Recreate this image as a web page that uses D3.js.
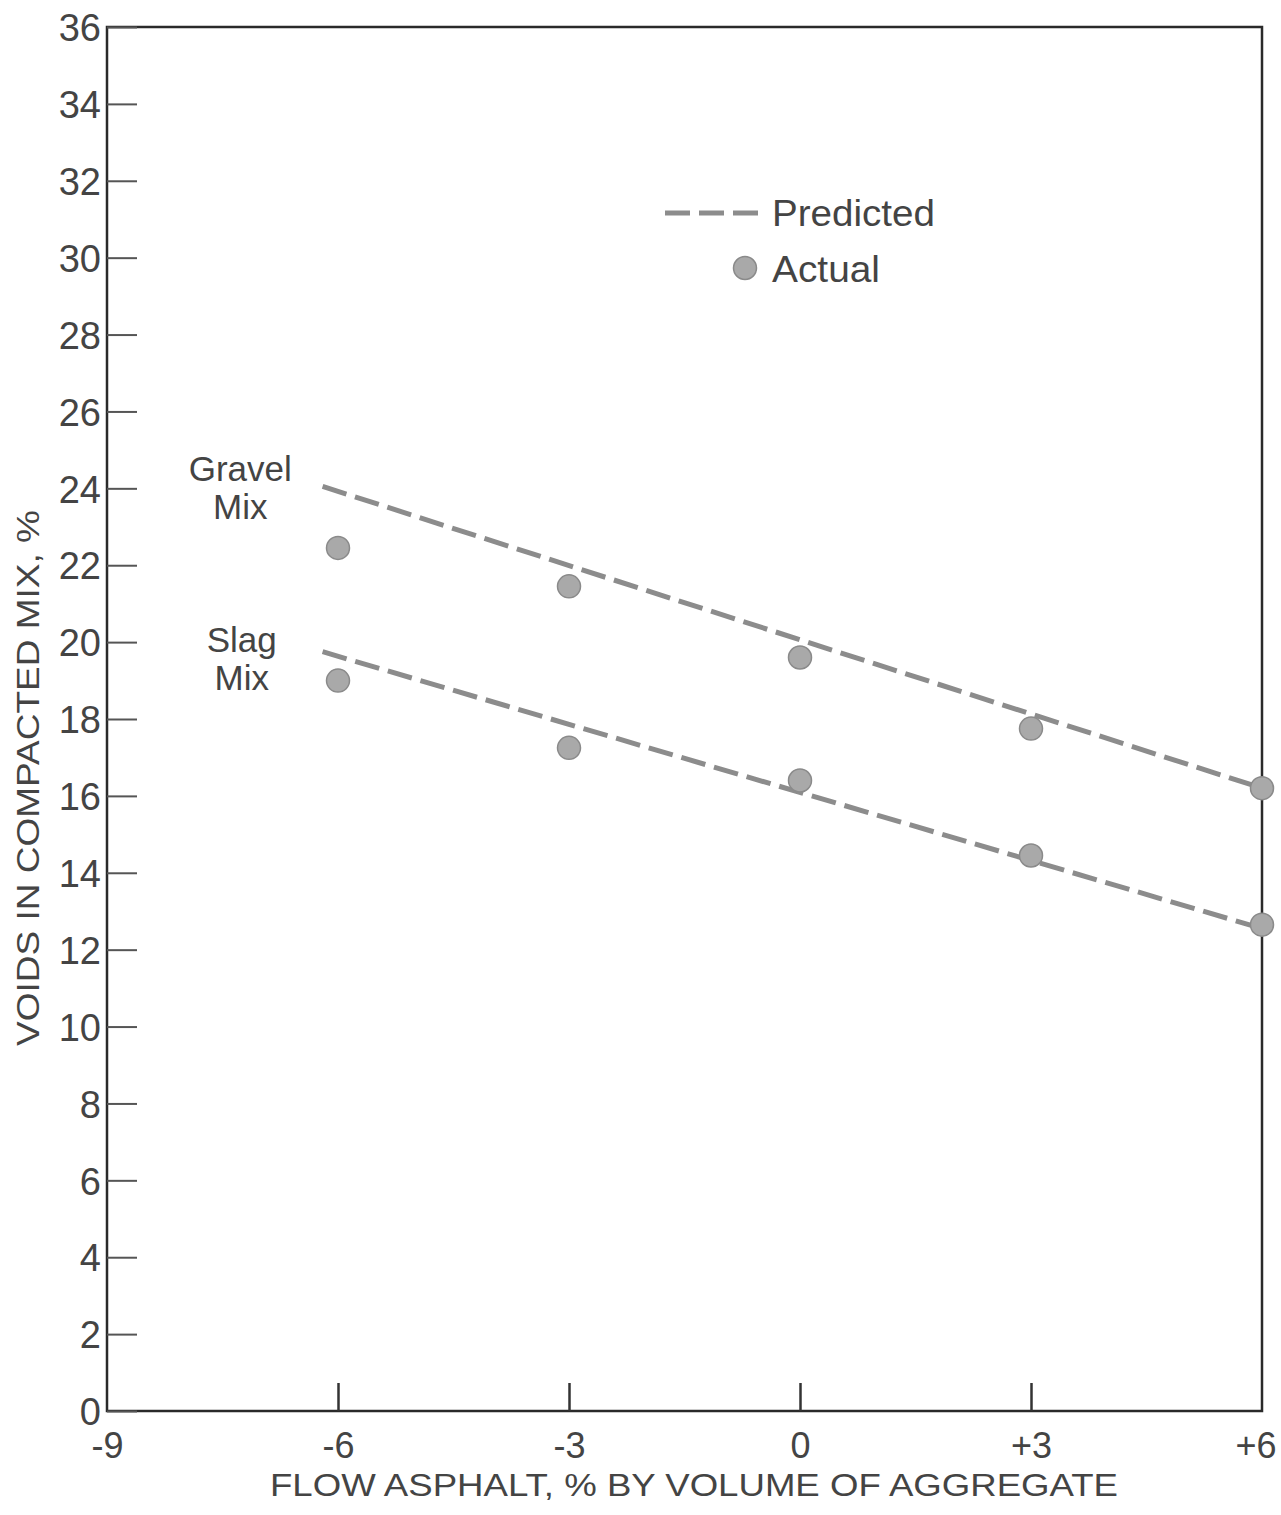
<!DOCTYPE html>
<html>
<head>
<meta charset="utf-8">
<script src="https://cdn.jsdelivr.net/npm/d3@7"></script>
<style>
  html, body { margin: 0; padding: 0; background: #fff; }
  svg text { font-family: "Liberation Sans", "DejaVu Sans", sans-serif; fill: #444; }
</style>
</head>
<body>
<script>
// ---- data ----
const xTicks = [-9, -6, -3, 0, 3, 6];
const xTickLabels = ["-9", "-6", "-3", "0", "+3", "+6"];
const yTicks = [0, 2, 4, 6, 8, 10, 12, 14, 16, 18, 20, 22, 24, 26, 28, 30, 32, 34, 36];

const actualX = [-6, -3, 0, 3, 6];
const gravelActual = [22.45, 21.45, 19.6, 17.75, 16.2];
const slagActual = [19.0, 17.25, 16.4, 14.45, 12.65];

const predX = [-6.2, 6];
const gravelPred = [24.05, 16.2];
const slagPred = [19.75, 12.55];

const seriesLabels = [
  { lines: ["Gravel", "Mix"], x: -7.27, y: 24.2 },
  { lines: ["Slag", "Mix"], x: -7.25, y: 19.75 }
];

// ---- layout ----
const W = 1281, H = 1515;
const mLeft = 107, mRight = 1262, mTop = 27, mBottom = 1411;

const svg = d3.select("body").append("svg").attr("width", W).attr("height", H);

const x = d3.scaleLinear().domain([-9, 6]).range([mLeft, mRight]);
const y = d3.scaleLinear().domain([0, 36]).range([mBottom, mTop]);

// frame
svg.append("rect")
  .attr("x", mLeft).attr("y", mTop)
  .attr("width", mRight - mLeft).attr("height", mBottom - mTop)
  .attr("fill", "none").attr("stroke", "#2a2a2a").attr("stroke-width", 2.5);

// y axis (ticks inward)
const yAxis = d3.axisRight(y).tickValues(yTicks).tickSize(30).tickFormat(d => String(d));
const gy = svg.append("g").attr("transform", `translate(${mLeft},0)`).call(yAxis);
gy.select(".domain").remove();
gy.selectAll(".tick line").attr("stroke", "#555").attr("stroke-width", 2);
gy.selectAll(".tick text")
  .attr("text-anchor", "end").attr("x", -6).attr("dy", "0.36em")
  .style("font-size", "38px").style("fill", "#444");

// x axis (inner ticks only)
const xAxis = d3.axisBottom(x).tickValues(xTicks).tickSize(0).tickFormat((d, i) => xTickLabels[i]);
const gx = svg.append("g").attr("transform", `translate(0,${mBottom})`).call(xAxis);
gx.select(".domain").remove();
gx.selectAll(".tick text").attr("y", 47).attr("dy", 0)
  .style("font-size", "36px").style("fill", "#444");
gx.selectAll(".tick text").filter(d => d === 6)
  .attr("text-anchor", "end").attr("x", 14);
gx.selectAll(".tick").filter(d => d > -9 && d < 6)
  .append("line").attr("y1", 0).attr("y2", -28)
  .attr("stroke", "#333").attr("stroke-width", 2.5);

// axis titles
svg.append("text")
  .attr("transform", `translate(39,778) rotate(-90)`)
  .attr("text-anchor", "middle")
  .attr("textLength", 536).attr("lengthAdjust", "spacingAndGlyphs")
  .style("font-size", "32px")
  .text("VOIDS IN COMPACTED MIX, %");

svg.append("text")
  .attr("x", 694).attr("y", 1496)
  .attr("text-anchor", "middle")
  .attr("textLength", 848).attr("lengthAdjust", "spacingAndGlyphs")
  .style("font-size", "31px")
  .text("FLOW ASPHALT, % BY VOLUME OF AGGREGATE");

// predicted lines
const line = d3.line().x(d => x(d[0])).y(d => y(d[1]));
[gravelPred, slagPred].forEach(vals => {
  svg.append("path")
    .datum(predX.map((xv, i) => [xv, vals[i]]))
    .attr("d", line)
    .attr("fill", "none")
    .attr("stroke", "#8c8c8c")
    .attr("stroke-width", 5)
    .attr("stroke-dasharray", "25 9");
});

// actual points
[gravelActual, slagActual].forEach(vals => {
  svg.append("g").selectAll("circle")
    .data(actualX.map((xv, i) => [xv, vals[i]]))
    .join("circle")
    .attr("cx", d => x(d[0])).attr("cy", d => y(d[1]))
    .attr("r", 11.5)
    .attr("fill", "#a9a9a9")
    .attr("stroke", "#8a8a8a").attr("stroke-width", 1.5);
});

// series labels
seriesLabels.forEach(s => {
  const t = svg.append("text")
    .attr("text-anchor", "middle")
    .style("font-size", "35px");
  s.lines.forEach((ln, i) => {
    t.append("tspan").attr("x", x(s.x)).attr("y", y(s.y) + i * 38).text(ln);
  });
});

// legend
const lg = svg.append("g");
lg.append("line")
  .attr("x1", 665).attr("x2", 765).attr("y1", 213).attr("y2", 213)
  .attr("stroke", "#8c8c8c").attr("stroke-width", 5).attr("stroke-dasharray", "25 9");
lg.append("text").attr("x", 772).attr("y", 226)
  .attr("textLength", 163).attr("lengthAdjust", "spacingAndGlyphs")
  .style("font-size", "36px").text("Predicted");
lg.append("circle").attr("cx", 745).attr("cy", 268).attr("r", 11.5)
  .attr("fill", "#a9a9a9").attr("stroke", "#8a8a8a").attr("stroke-width", 1.5);
lg.append("text").attr("x", 772).attr("y", 282)
  .attr("textLength", 108).attr("lengthAdjust", "spacingAndGlyphs")
  .style("font-size", "36px").text("Actual");
</script>
</body>
</html>
